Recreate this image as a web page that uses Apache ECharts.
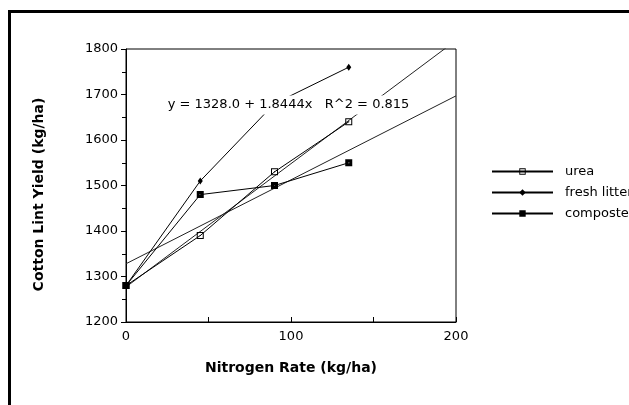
<!DOCTYPE html>
<html>
<head>
<meta charset="utf-8">
<script src="https://cdn.jsdelivr.net/npm/echarts@6/dist/echarts.min.js"></script>
<style>
  html, body { margin: 0; padding: 0; background: #fff; }
  #chart { width: 629px; height: 405px; }
</style>
</head>
<body>
<div id="chart"></div>
<script>
// nitrogen rates (kg/ha)
const rates = [0, 45, 90, 135];
// lint yield per source (kg/ha)
const urea = [1280, 1390, 1530, 1640];
const freshLitter = [1280, 1510, 1680, 1760];
const composted = [1280, 1480, 1500, 1550];
// fitted lines, end points
const ureaFitX = [0, 200];
const ureaFitY = [1277, 1819];
const compFitX = [0, 200];
const compFitY = [1328, 1697];
const fitText = 'y = 1328.0 + 1.8444x   R^2 = 0.815';

const yTicks = [1200, 1800, 100];
const xTicks = [0, 200, 100];

const pairs = (xs, ys) => xs.map((x, i) => [x, ys[i]]);

// square with dot in the middle / filled square with small hole
const symOpen = 'path://M0,0H7V7H0Z M1,1V6H6V1Z M3,3H4V4H3Z';
const symFilled = 'path://M0,0H7V7H0Z M3,3V4H4V3Z';

const font = 'DejaVu Sans';

let chart = echarts.init(document.getElementById('chart'));
let option = {
  animation: false,
  backgroundColor: '#fff',
  graphic: [
    {
      type: 'rect',
      shape: {x: 9.5, y: 11.5, width: 800, height: 600},
      style: {fill: null, stroke: '#000', lineWidth: 3},
      silent: true
    }
  ],
  grid: {
    left: 126, top: 49, right: 173, bottom: 83,
    show: true, borderColor: '#000', borderWidth: 1,
    backgroundColor: 'transparent'
  },
  legend: {
    orient: 'vertical',
    left: 486,
    top: 160,
    itemWidth: 61,
    itemHeight: 8,
    itemGap: 8,
    data: ['urea', 'fresh litter', 'composted litter'],
    textStyle: {color: '#000', fontFamily: font, fontSize: 13, padding: [0, 0, 0, 7]}
  },
  xAxis: {
    type: 'value',
    min: xTicks[0], max: xTicks[1], interval: xTicks[2],
    name: 'Nitrogen Rate (kg/ha)',
    nameLocation: 'middle',
    nameGap: 39,
    nameTextStyle: {color: '#000', fontFamily: font, fontWeight: 'bold', fontSize: 14},
    axisLine: {lineStyle: {color: '#000', width: 1}},
    axisTick: {inside: true, length: 5, lineStyle: {color: '#000'}},
    minorTick: {show: true, splitNumber: 2, length: 5, lineStyle: {color: '#000'}},
    axisLabel: {color: '#000', fontFamily: font, fontSize: 13, margin: 8},
    splitLine: {show: false}
  },
  yAxis: {
    type: 'value',
    min: yTicks[0], max: yTicks[1], interval: yTicks[2],
    name: 'Cotton Lint Yield (kg/ha)',
    nameLocation: 'middle',
    nameGap: 80,
    nameTextStyle: {color: '#000', fontFamily: font, fontWeight: 'bold', fontSize: 14, padding: [0, 18, 0, 0]},
    axisLine: {lineStyle: {color: '#000', width: 1}},
    axisTick: {length: 5, lineStyle: {color: '#000'}},
    minorTick: {show: true, splitNumber: 2, length: 4, lineStyle: {color: '#000'}},
    axisLabel: {color: '#000', fontFamily: font, fontSize: 13, margin: 8, formatter: v => String(v)},
    splitLine: {show: false}
  },
  series: [
    {
      name: 'urea fit', type: 'line', data: pairs(ureaFitX, ureaFitY),
      showSymbol: false, lineStyle: {color: '#222', width: 1}, z: 1
    },
    {
      name: 'composted fit', type: 'line', data: pairs(compFitX, compFitY),
      showSymbol: false, lineStyle: {color: '#222', width: 1}, z: 1,
      markPoint: {
        symbol: 'rect', symbolSize: 0,
        data: [{coord: [98.5, 1677], value: fitText}],
        label: {
          show: true, position: 'inside', formatter: fitText,
          color: '#000', fontFamily: font, fontSize: 13,
          backgroundColor: '#fff', padding: [3, 2]
        }
      }
    },
    {
      name: 'urea', type: 'line', data: pairs(rates, urea),
      symbol: symOpen, symbolSize: 7,
      itemStyle: {color: '#000'}, lineStyle: {color: '#000', width: 1}
    },
    {
      name: 'fresh litter', type: 'line', data: pairs(rates, freshLitter),
      symbol: 'diamond', symbolSize: [5, 7],
      itemStyle: {color: '#000'}, lineStyle: {color: '#000', width: 1}
    },
    {
      name: 'composted litter', type: 'line', data: pairs(rates, composted),
      symbol: symFilled, symbolSize: 7,
      itemStyle: {color: '#000'}, lineStyle: {color: '#000', width: 1}
    }
  ]
};
chart.setOption(option);
</script>
</body>
</html>
